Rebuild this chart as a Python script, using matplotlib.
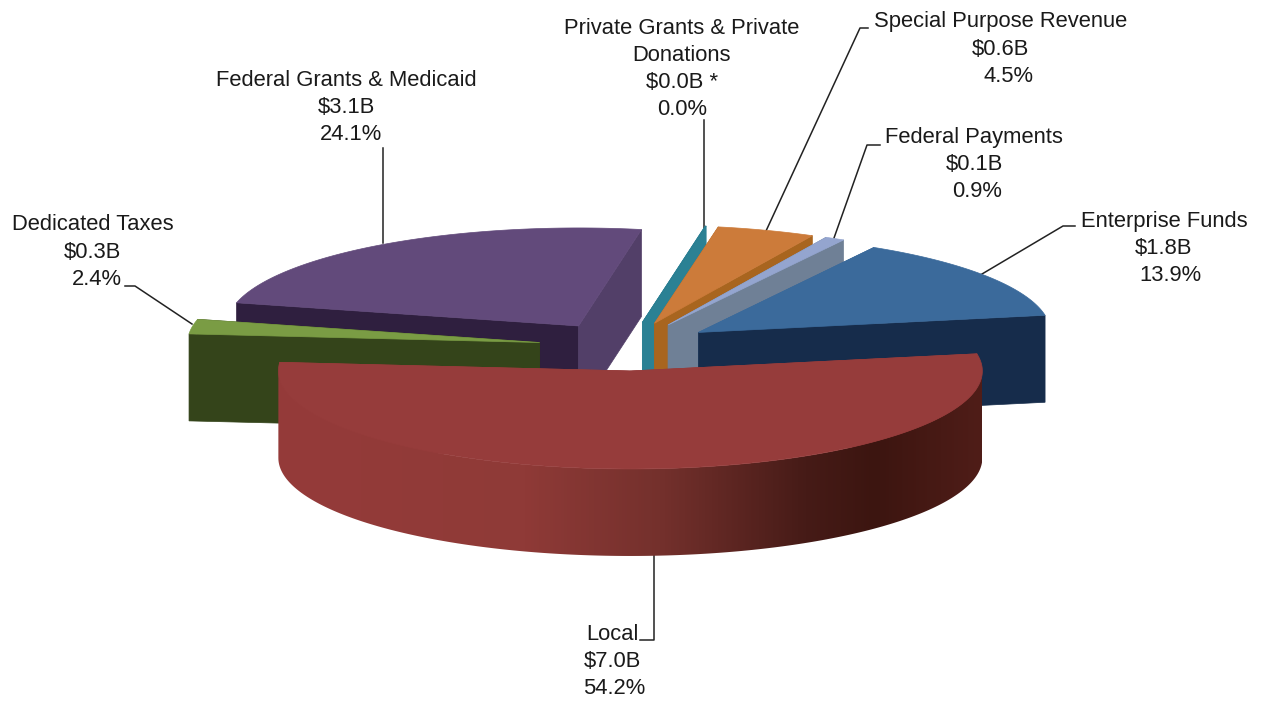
import numpy as np
import matplotlib
matplotlib.use("Agg")
import matplotlib.pyplot as plt
from matplotlib.colors import LinearSegmentedColormap
from matplotlib.patches import Polygon

plt.rcParams['font.family'] = ['Liberation Sans', 'DejaVu Sans']

# Data, clockwise from the first slice
names = ['Private Grants', 'Special Purpose', 'Federal Payments', 'Enterprise Funds',
         'Local', 'Dedicated Taxes', 'Federal Grants']
shares = [0.04, 4.5, 0.9, 13.9, 54.2, 2.4, 24.06]

top_colors = ['#2a7f93', '#cc7b3a', '#94a5cf', '#3b6a9b', '#963c3b', '#7a9c44', '#624a7b']
start_wall_colors = ['#2b8194', '#a8651f', '#6f8096', '#3b6a9b', '#963c3b', '#34441a', '#2f1f3f']
end_wall_colors = ['#2b8194', '#a8651f', '#6f8096', '#162c4b', '#963c3b', '#34441a', '#523f68']

# Drawn back to front
draw_order = [6, 5, 0, 1, 2, 3, 4]

# Pie geometry in pixels
first_angle = 10.3
center_x, center_y = 626.5, 346.5
radius_x, radius_y = 352, 98
explode = 0.25
depth = 87

local_wall = LinearSegmentedColormap.from_list(
    'local_wall', [(0, '#953b3a'), (0.35, '#8f3a37'), (0.55, '#73302c'),
                   (0.75, '#461b17'), (0.85, '#3c1510'), (1, '#4f1d18')])

# Label text and leader lines
labels = [
    (['Private Grants & Private', 'Donations', '$0.0B *', '0.0%'], [682, 682, 682, 682], 28),
    (['Special Purpose Revenue', '$0.6B', '4.5%'], [1001, 1001, 1009], 22),
    (['Federal Payments', '$0.1B', '0.9%'], [974, 974, 977], 137),
    (['Enterprise Funds', '$1.8B', '13.9%'], [1164, 1164, 1170], 221),
    (['Local', '$7.0B', '54.2%'], [612, 612, 614], 634),
    (['Dedicated Taxes', '$0.3B', '2.4%'], [93, 93, 97], 225),
    (['Federal Grants & Medicaid', '$3.1B', '24.1%'], [346, 346, 351], 80),
]
line_step = 27.3
leaders = [
    ([704, 704], [120, 228]),
    ([868, 860, 766], [28, 28, 231]),
    ([880, 867, 834], [145, 145, 238]),
    ([1075, 1063, 982], [226, 226, 274]),
    ([640, 654, 654], [640, 640, 555]),
    ([125, 135, 192], [286, 286, 324]),
    ([383, 383], [148, 243]),
]


def rim(angles, ox, oy):
    rad = np.radians(angles)
    return ox + radius_x * np.sin(rad), oy - radius_y * np.cos(rad)


fig = plt.figure(figsize=(12.66, 7.01), dpi=100)
ax = fig.add_axes([0, 0, 1, 1])

edges = first_angle + np.cumsum([0] + [s * 3.6 for s in shares])

for z, i in enumerate(draw_order):
    a0, a1 = edges[i], edges[i + 1]
    mid = np.radians((a0 + a1) / 2)
    ox = center_x + explode * radius_x * np.sin(mid)
    oy = center_y - explode * radius_y * np.cos(mid)
    zo = 2 + z

    # cut faces
    for ang, col in [(a0, start_wall_colors[i]), (a1, end_wall_colors[i])]:
        rx, ry = rim(ang, ox, oy)
        ax.add_patch(Polygon([(ox, oy), (rx, ry), (rx, ry + depth), (ox, oy + depth)],
                             fc=col, ec=col, lw=0.5, zorder=zo))

    # outer wall, only the front half of the ellipse shows
    lo, hi = max(a0, 90), min(a1, 270)
    if hi > lo:
        xs, ys = rim(np.linspace(lo, hi, 200), ox, oy)
        outline = list(zip(xs, ys)) + list(zip(xs[::-1], ys[::-1] + depth))
        wall = Polygon(outline, fc='none', ec='none', zorder=zo)
        ax.add_patch(wall)
        # gradient runs from the left end of the wall to the right end
        img = ax.imshow(np.linspace(0, 1, 512).reshape(1, -1), cmap=local_wall,
                        extent=[xs.min(), xs.max(), ys.max() + depth, ys.min()],
                        aspect='auto', zorder=zo)
        img.set_clip_path(wall)

    # top face
    xs, ys = rim(np.linspace(a0, a1, 200), ox, oy)
    pts = [(ox, oy)] + list(zip(xs, ys))
    ax.add_patch(Polygon(pts, fc=top_colors[i], ec=top_colors[i], lw=0.5, zorder=zo + 0.5))

for xs, ys in leaders:
    ax.plot(xs, ys, color='#222222', lw=1.1, zorder=1)

for lines, xs, y0 in labels:
    for n, (line, x) in enumerate(zip(lines, xs)):
        ax.text(x, y0 + n * line_step, line, ha='center', va='center',
                fontsize=15.8, color='#1a1a1a', zorder=20)

ax.set_xlim(0, 1266)
ax.set_ylim(701, 0)
ax.axis('off')

fig.savefig('out.png', dpi=100, facecolor='white')
